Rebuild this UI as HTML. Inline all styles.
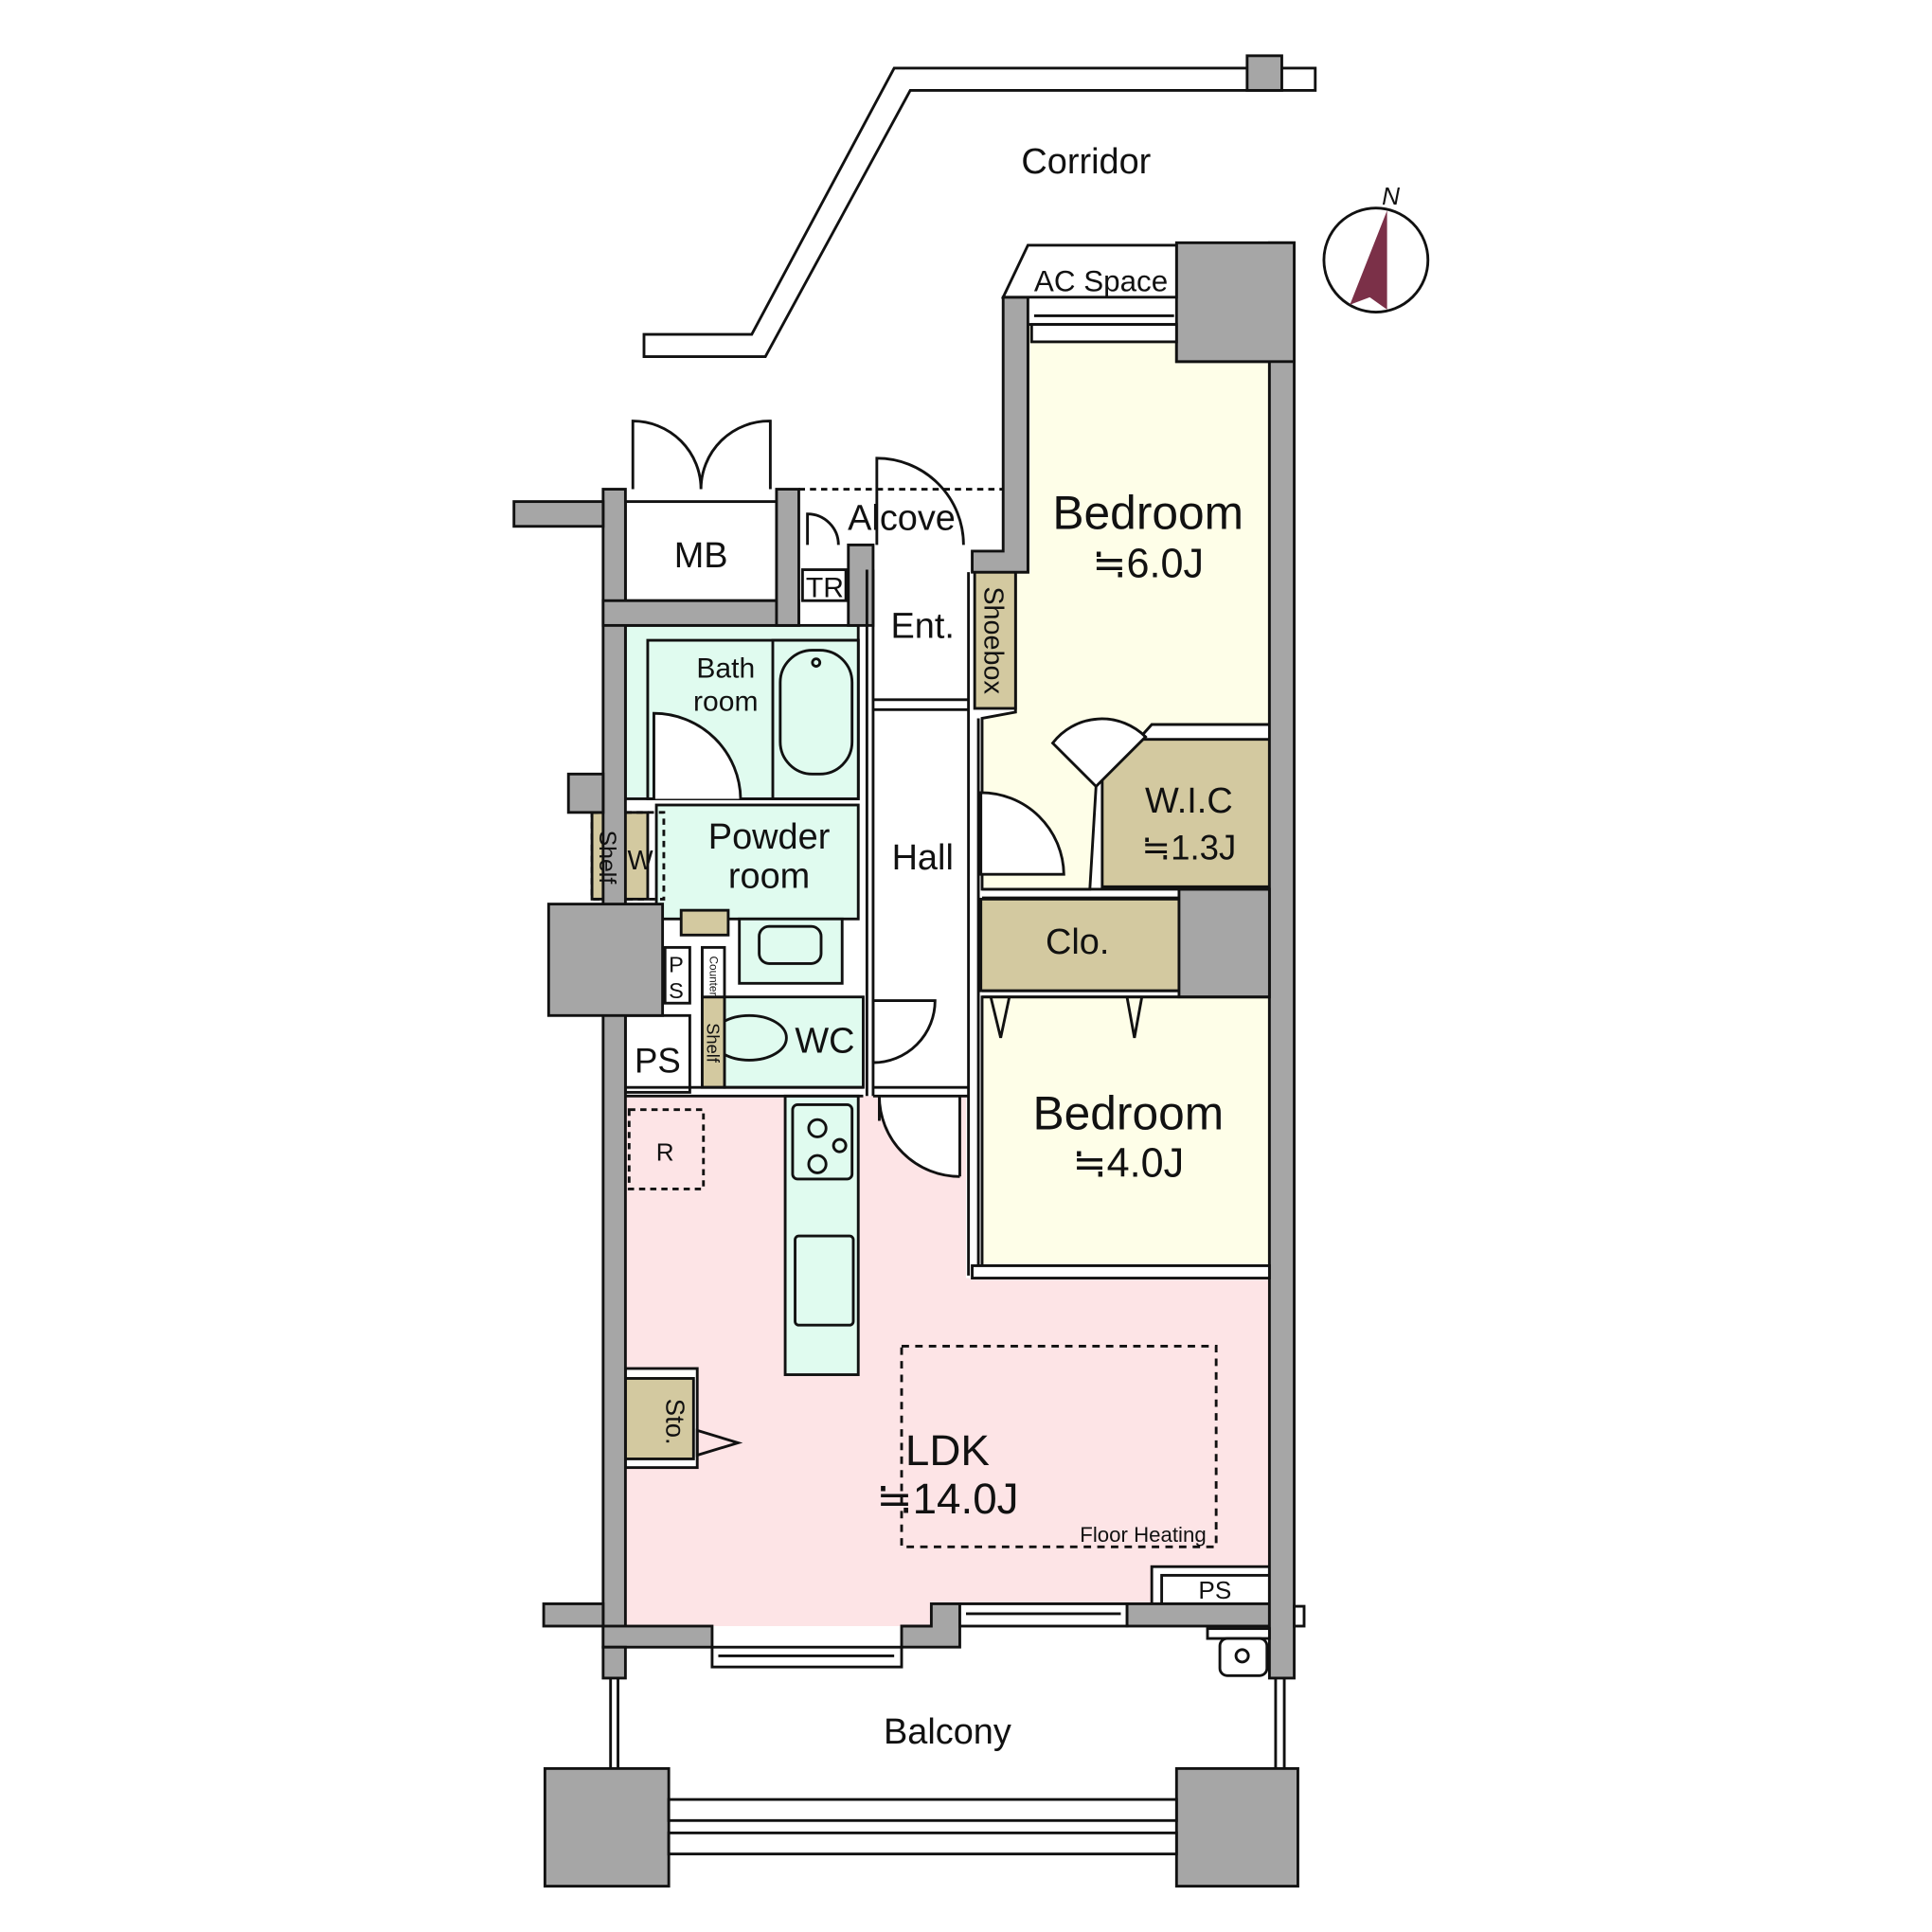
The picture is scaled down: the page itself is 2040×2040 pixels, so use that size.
<!DOCTYPE html>
<html><head><meta charset="utf-8"><style>
html,body{margin:0;padding:0;background:#fff}
svg{display:block}
text{font-family:"Liberation Sans","Noto Sans CJK JP",sans-serif;fill:#111}
</style></head><body>
<svg width="2040" height="2040" viewBox="0 0 1560 1560" xmlns="http://www.w3.org/2000/svg">
<g stroke="#111" stroke-width="2.2" fill="none">
<polygon points="520,270 607,270 722,55 1062,55 1062,73 735,73 618,288 520,288" fill="#fff"/>
<rect x="1007" y="45" width="28" height="28" fill="#a6a6a6"/>
<circle cx="1111" cy="210" r="42" fill="#fff"/>
<polygon points="1120,170 1120,250 1106,240 1090,246" fill="#7b3048" stroke="none"/>

<polygon points="505,885 780,885 780,1032 1025,1032 1025,1295 752,1295 752,1313 505,1313" fill="#fde4e6" stroke="none"/>
<polygon points="830,262 950,262 950,292 1025,292 1025,585 930,585 885,635 880,718 793,718 793,580 820,575 820,462 830,462" fill="#fefee8"/>
<rect x="793" y="805" width="232" height="217" fill="#fefee8"/>
<rect x="890" y="597" width="135" height="119" fill="#d3c9a0"/>
<rect x="792" y="726" width="160" height="74" fill="#d3c9a0"/>
<rect x="787" y="462" width="33" height="110" fill="#d3c9a0"/>
<rect x="505" y="505" width="188" height="140" fill="#e0fbef"/>
<rect x="523" y="517" width="170" height="128" fill="#e0fbef"/>
<rect x="624" y="517" width="69" height="128" fill="#e0fbef"/>
<rect x="630" y="525" width="58" height="100" rx="26" fill="#e0fbef"/>
<circle cx="659" cy="535" r="3"/>
<rect x="530" y="650" width="163" height="92" fill="#e0fbef"/>
<rect x="597" y="742" width="83" height="52" fill="#e0fbef"/>
<rect x="613" y="748" width="50" height="30" rx="8" fill="#e0fbef"/>
<rect x="585" y="805" width="112" height="73" fill="#e0fbef"/>
<ellipse cx="605" cy="838" rx="30" ry="18" fill="#e0fbef"/>
<rect x="567" y="805" width="18" height="73" fill="#d3c9a0"/>
<rect x="567" y="765" width="18" height="40" fill="#fff"/>
<rect x="478" y="656" width="45" height="70" fill="#d3c9a0"/>
<rect x="550" y="735" width="38" height="20" fill="#d3c9a0"/>
<rect x="505" y="405" width="122" height="80" fill="#fff"/>
<rect x="648" y="460" width="35" height="25" fill="#fff"/>
<rect x="505" y="820" width="52" height="62" fill="#fff"/>
<rect x="537" y="765" width="20" height="45" fill="#fff"/>
<rect x="634" y="885" width="59" height="225" fill="#e0fbef"/>
<rect x="640" y="892" width="48" height="60" rx="4" fill="#e0fbef"/>
<circle cx="660" cy="911" r="7"/><circle cx="660" cy="940" r="7"/><circle cx="678" cy="925" r="5"/>
<rect x="642" y="998" width="47" height="72" rx="3" fill="#e0fbef"/>
<rect x="505" y="1105" width="58" height="80" fill="#fff"/>
<rect x="505" y="1113" width="55" height="65" fill="#d3c9a0"/>
<polygon points="563,1155 596,1165 563,1175"/>
<rect x="508" y="896" width="60" height="64" stroke-dasharray="5,4"/>
<rect x="728" y="1087" width="254" height="162" stroke-dasharray="6,5"/>
<rect x="930" y="1265" width="95" height="30" fill="#fff"/>
<rect x="938" y="1272" width="87" height="23" fill="#fff"/>
<rect x="478" y="656" width="58" height="70" stroke-dasharray="5,4"/>
<g fill="#a6a6a6">
<rect x="487" y="395" width="18" height="935"/>
<rect x="459" y="625" width="28" height="31"/>
<rect x="443" y="730" width="92" height="90"/>
<rect x="415" y="405" width="72" height="20"/>
<rect x="439" y="1295" width="48" height="18"/>
<rect x="487" y="1313" width="88" height="17"/>
<rect x="487" y="1330" width="18" height="25"/>
<polygon points="728,1313 752,1313 752,1295 775,1295 775,1330 728,1330"/>
<rect x="910" y="1295" width="115" height="18"/>
<rect x="1025" y="196" width="20" height="1159"/>
<polygon points="950,196 1045,196 1045,292 950,292"/>
<rect x="952" y="718" width="73" height="87"/>
<polygon points="810,240 830,240 830,462 785,462 785,445 810,445"/>
<rect x="487" y="485" width="158" height="20"/>
<rect x="627" y="395" width="18" height="110"/>
<rect x="685" y="440" width="20" height="65"/>
<rect x="440" y="1428" width="100" height="95"/>
<rect x="950" y="1428" width="98" height="95"/>
</g>
<rect x="540" y="1453" width="410" height="17" fill="#fff"/>
<rect x="540" y="1480" width="410" height="17" fill="#fff"/>
<line x1="493" y1="1355" x2="493" y2="1428"/><line x1="499" y1="1355" x2="499" y2="1428"/>
<line x1="1030" y1="1355" x2="1030" y2="1428"/><line x1="1037" y1="1355" x2="1037" y2="1428"/>
<rect x="575" y="1330" width="153" height="16" fill="#fff"/><line x1="580" y1="1337" x2="722" y2="1337"/>
<rect x="775" y="1295" width="135" height="18" fill="#fff"/><line x1="780" y1="1303" x2="905" y2="1303"/>
<rect x="833" y="262" width="117" height="14" fill="#fff"/><line x1="835" y1="255" x2="948" y2="255"/>
<polygon points="810,240 830,198 950,198 950,240" fill="#fff"/>
<rect x="785" y="1022" width="240" height="10" fill="#fff"/>
<rect x="1045" y="1297" width="8" height="16" fill="#fff"/>
<rect x="975" y="1315" width="50" height="8" fill="#fff"/>
<rect x="985" y="1323" width="38" height="30" rx="6" fill="#fff"/><circle cx="1003" cy="1337" r="5"/>
<path d="M511,395 V340 A55,55 0 0 1 566,395 M622,395 V340 A55,55 0 0 0 566,395" fill="#fff"/>
<path d="M708,440 V370 A70,70 0 0 1 778,440" fill="#fff"/>
<line x1="645" y1="395" x2="810" y2="395" stroke-dasharray="5,4"/>
<path d="M652,440 V415 A25,25 0 0 1 677,440"/>
<path d="M528,645 V576 A70,70 0 0 1 598,645" fill="#fff"/>
<path d="M792,706 V640 A67,67 0 0 1 859,706 Z" fill="#fff"/>
<path d="M885,635 L850,600 A50,50 0 0 1 925,595 Z" fill="#fff"/>
<path d="M705,858 V808 H755 A50,50 0 0 1 705,858" fill="#fff"/>
<path d="M710,885 H775 V950 A65,65 0 0 1 710,885 Z" fill="#fff" stroke="none"/>
<path d="M710,885 V905 M775,950 V885 M775,950 A65,65 0 0 1 710,885"/>
<path d="M800,805 L808,838 L815,805 M910,805 L916,838 L922,805"/>
<line x1="705" y1="460" x2="705" y2="885"/><line x1="700" y1="460" x2="700" y2="885"/>
<line x1="782" y1="462" x2="782" y2="1030"/><line x1="790" y1="580" x2="790" y2="1022"/>
<line x1="705" y1="565" x2="782" y2="565"/><line x1="705" y1="573" x2="782" y2="573"/>
<line x1="705" y1="878" x2="782" y2="878"/><line x1="705" y1="885" x2="782" y2="885"/>
<line x1="505" y1="885" x2="697" y2="885"/><line x1="505" y1="878" x2="697" y2="878"/>
<line x1="793" y1="718" x2="1025" y2="718"/><line x1="793" y1="725" x2="952" y2="725"/>
<line x1="793" y1="800" x2="952" y2="800"/><line x1="793" y1="805" x2="1025" y2="805"/>
</g>
<g text-anchor="middle">
<text x="877" y="140" font-size="29">Corridor</text>
<text x="1123" y="165" font-size="20" font-style="italic">N</text>
<text x="889" y="235" font-size="24">AC Space</text>
<text x="728" y="428" font-size="29">Alcove</text>
<text x="566" y="458" font-size="29">MB</text>
<text x="666" y="482" font-size="23">TR</text>
<text x="745" y="515" font-size="29">Ent.</text>
<text x="586" y="547" font-size="23">Bath</text>
<text x="586" y="574" font-size="23">room</text>
<text x="621" y="685" font-size="29">Powder</text>
<text x="621" y="717" font-size="29">room</text>
<text x="517" y="702" font-size="22">W</text>
<text x="745" y="702" font-size="29">Hall</text>
<text x="927" y="427" font-size="38">Bedroom</text>
<text x="927" y="466" font-size="33">≒6.0J</text>
<text x="960" y="656" font-size="29">W.I.C</text>
<text x="960" y="694" font-size="28">≒1.3J</text>
<text x="870" y="770" font-size="29">Clo.</text>
<text x="911" y="912" font-size="38">Bedroom</text>
<text x="911" y="950" font-size="33">≒4.0J</text>
<text x="666" y="850" font-size="29">WC</text>
<text x="531" y="866" font-size="28">PS</text>
<text x="546" y="785" font-size="18">P</text><text x="546" y="806" font-size="18">S</text>
<text x="537" y="937" font-size="20">R</text>
<text x="765" y="1183" font-size="35">LDK</text>
<text x="765" y="1222" font-size="35">≒14.0J</text>
<text x="923" y="1245" font-size="17">Floor Heating</text>
<text x="981" y="1291" font-size="20">PS</text>
<text x="765" y="1408" font-size="29">Balcony</text>
<text transform="translate(795,517) rotate(90)" font-size="22">Shoebox</text>
<text transform="translate(484,692) rotate(90)" font-size="19">Shelf</text>
<text transform="translate(538,1148) rotate(90)" font-size="21">Sto.</text>
<text transform="translate(573,788) rotate(90)" font-size="9">Counter</text>
<text transform="translate(571,842) rotate(90)" font-size="14">Shelf</text>
</g>
</svg>
</body></html>
